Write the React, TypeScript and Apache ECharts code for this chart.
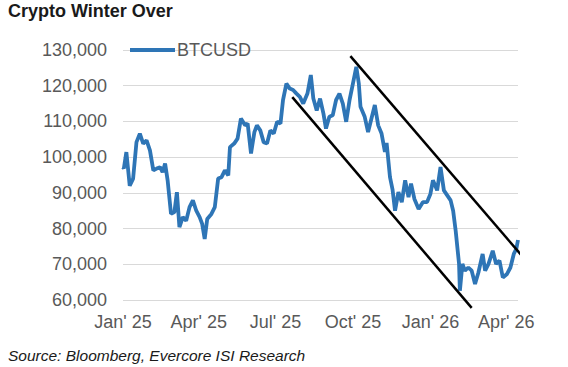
import React, { useEffect, useRef } from "react";
import * as echarts from "echarts";

// Days since 1 Jan 2025
const btcDays = [
  0, 1, 4, 8, 12, 16, 20, 24, 28, 32, 36, 40, 44, 47, 50, 53, 57, 61, 64, 67, 71, 75, 79, 83, 87, 91, 94, 97,
  100, 105, 109, 113, 117, 121, 125, 127, 132, 136, 140, 145, 148, 152, 156, 159, 163, 167, 171, 175, 179,
  183, 187, 190, 194, 198, 202, 206, 210, 214, 219, 223, 226, 230, 234, 238, 241, 245, 249, 253, 257, 261,
  265, 269, 273, 277, 280, 282, 287, 291, 295, 299, 303, 307, 311, 313, 317, 320, 323, 327, 331, 335, 339,
  342, 346, 351, 356, 361, 365, 368, 373, 377, 381, 385, 389, 392, 395, 399, 400, 403, 406, 410, 414, 418,
  422, 427, 430, 434, 439, 443, 447, 451, 456, 460, 464, 467, 469,
];
const btcValues = [
  97200, 96800, 101400, 92000, 94000, 104200, 106600, 103800, 104700, 101900, 96300, 96800, 97200, 95800,
  98200, 93500, 84100, 84600, 90200, 80400, 83200, 82200, 86000, 87900, 85000, 83200, 81300, 77100, 82700,
  84100, 86000, 94000, 94400, 96300, 94900, 102800, 103800, 105200, 110800, 108900, 109400, 101000, 107000,
  108900, 107500, 104200, 103800, 107500, 106600, 109900, 109400, 116000, 120600, 119200, 118800, 117800,
  116900, 115000, 117800, 123000, 116400, 113100, 116400, 112200, 108000, 111300, 111700, 116000, 117800,
  115000, 109900, 116000, 120600, 125300, 120600, 114100, 111300, 107000, 110800, 114600, 108900, 106600,
  101500, 104000, 94400, 91000, 85000, 90200, 87400, 93500, 88800, 92600, 88300, 85500, 87400, 87400, 89700,
  93500, 90700, 97200, 90700, 89300, 87900, 85000, 79400, 70100, 62600, 70100, 68200, 69100, 68200, 64500,
  67700, 72900, 68200, 70100, 73800, 70100, 71000, 66300, 67300, 69100, 72900, 74300, 76800,
];

// Channel lines [day, value]
const upperChannel = [
  [270, 128300],
  [486, 69000],
];
const lowerChannel = [
  [201, 116800],
  [414, 57800],
];

const xTickDays = [0, 90, 181, 273, 365, 455];
const xTickLabels = ["Jan' 25", "Apr' 25", "Jul' 25", "Oct' 25", "Jan' 26", "Apr' 26"];

const yMin = 60000;
const yMax = 130000;
const yStep = 10000;

const FONT = "'Liberation Sans', Arial, sans-serif";

export default function App() {
  const ref = useRef<HTMLDivElement>(null);

  useEffect(() => {
    if (!ref.current) return;
    const chart = echarts.init(ref.current, null, { renderer: "svg" });
    const btcData = btcDays.map((d, i) => [d, btcValues[i]]);
    chart.setOption({
      animation: false,
      backgroundColor: "#ffffff",
      title: [
        {
          text: "Crypto Winter Over",
          left: 8,
          top: 2,
          padding: 0,
          textStyle: { fontFamily: FONT, fontSize: 18, fontWeight: "bold", color: "#1a1a1a" },
        },
        {
          text: "Source: Bloomberg, Evercore ISI Research",
          left: 8,
          top: 347,
          padding: 0,
          textStyle: {
            fontFamily: FONT,
            fontSize: 15.5,
            fontWeight: "normal",
            fontStyle: "italic",
            color: "#1a1a1a",
          },
        },
      ],
      legend: {
        data: ["BTCUSD"],
        left: 130,
        top: 41,
        padding: 0,
        icon: "rect",
        itemWidth: 45,
        itemHeight: 4,
        itemGap: 10,
        textStyle: { fontFamily: FONT, fontSize: 18, color: "#595959", padding: [0, 0, 0, -3] },
      },
      grid: { left: 123, right: 50, top: 50, bottom: 67 },
      xAxis: {
        type: "value",
        min: 0,
        max: 469,
        axisLine: { show: false },
        axisTick: { show: false },
        splitLine: { show: false },
        axisLabel: {
          customValues: xTickDays,
          formatter: (v: number) => {
            const i = xTickDays.indexOf(Math.round(v));
            return i >= 0 ? xTickLabels[i] : "";
          },
          fontFamily: FONT,
          fontSize: 18,
          color: "#595959",
          margin: 13,
        },
      },
      yAxis: {
        type: "value",
        min: yMin,
        max: yMax,
        interval: yStep,
        axisLine: { show: false },
        axisTick: { show: false },
        splitLine: { lineStyle: { color: "#d9d9d9", width: 1 } },
        axisLabel: {
          formatter: (v: number) => v.toLocaleString("en-US"),
          fontFamily: FONT,
          fontSize: 18,
          color: "#595959",
          margin: 16,
        },
      },
      series: [
        {
          name: "BTCUSD",
          type: "line",
          data: btcData,
          showSymbol: false,
          symbol: "none",
          lineStyle: { color: "#2e75b6", width: 3.8 },
          itemStyle: { color: "#2e75b6" },
          z: 2,
        },
        {
          name: "upper",
          type: "line",
          data: upperChannel,
          symbol: "none",
          clip: false,
          silent: true,
          lineStyle: { color: "#000000", width: 2.5 },
          z: 3,
        },
        {
          name: "lower",
          type: "line",
          data: lowerChannel,
          symbol: "none",
          clip: false,
          silent: true,
          lineStyle: { color: "#000000", width: 2.5 },
          z: 3,
        },
      ],
    });
    return () => chart.dispose();
  }, []);

  return (
    <div
      ref={ref}
      style={{ position: "fixed", left: 0, top: 0, width: 568, height: 367, background: "#fff" }}
    />
  );
}
